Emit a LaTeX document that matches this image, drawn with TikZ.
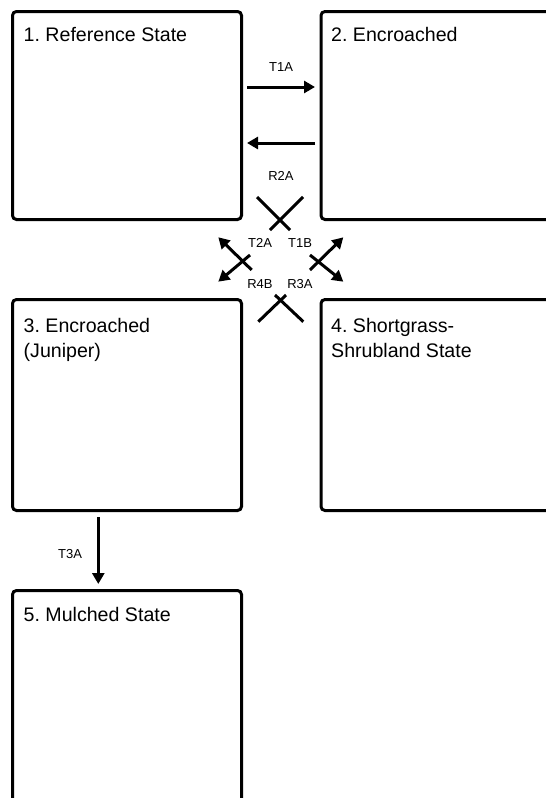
\documentclass[tikz,border=0pt]{standalone}
\usepackage{fontspec}
\setmainfont{Liberation Sans}
\usetikzlibrary{arrows.meta}
\frenchspacing
\begin{document}
\begin{tikzpicture}[x=1pt,y=-1pt,
  statebox/.style={draw=black, line width=3pt, rounded corners=4pt, inner sep=0pt, anchor=north west},
  title/.style={anchor=base west, inner sep=0pt, font=\fontsize{19.6}{24}\selectfont},
  lab/.style={inner sep=0pt, font=\fontsize{13}{15}\selectfont},
  arr/.style={line width=3pt, -{Triangle[length=11pt,width=12pt]}},
  xline/.style={line width=3pt}]
\useasboundingbox (0,0) rectangle (546,798);
\clip (0,0) rectangle (546,798);
% state boxes
\node[statebox, minimum width=229pt, minimum height=208pt] (s1) at (11,10) {};
\node[statebox, minimum width=250pt, minimum height=208pt] (s2) at (319.5,10) {};
\node[statebox, minimum width=229pt, minimum height=211pt] (s3) at (11,298) {};
\node[statebox, minimum width=250pt, minimum height=211pt] (s4) at (319.5,298) {};
\node[statebox, minimum width=229pt, minimum height=250pt] (s5) at (11,589) {};
% titles
\node[title] (t1) at (23.5,41.5) {1. Reference State};
\node[title] (t2) at (331,41.5) {2. Encroached};
\node[title] (t3a) at (23.5,332) {3. Encroached};
\node[title] (t3b) at (23.5,357) {(Juniper)};
\node[title] (t4a) at (331,332) {4. Shortgrass-};
\node[title] (t4b) at (331,357) {Shrubland State};
\node[title] (t5) at (23.5,621.5) {5. Mulched State};
% transition endpoints
\coordinate (t1aS) at (247,87);
\coordinate (t1aE) at (315,87);
\coordinate (r2aS) at (315,143);
\coordinate (r2aE) at (247,143);
\coordinate (t3aS) at (98.3,517);
\coordinate (t3aE) at (98.3,584);
\coordinate (aS) at (251.7,270);
\coordinate (aE) at (218.3,237.3);
\coordinate (bS) at (250,255);
\coordinate (bE) at (218.3,281.7);
\coordinate (cS) at (310,270);
\coordinate (cE) at (343.3,237.3);
\coordinate (dS) at (310,255);
\coordinate (dE) at (343.3,281.7);
\coordinate (x1a) at (257,197);
\coordinate (x1b) at (290,230);
\coordinate (x2a) at (303,197);
\coordinate (x2b) at (270,230);
\coordinate (x3a) at (275,295);
\coordinate (x3b) at (303.3,321.7);
\coordinate (x4a) at (286,295);
\coordinate (x4b) at (258.3,321.7);
% arrows
\draw[arr] (t1aS) -- (t1aE);
\draw[arr] (r2aS) -- (r2aE);
\draw[arr] (t3aS) -- (t3aE);
\draw[arr] (aS) -- (aE);
\draw[arr] (bS) -- (bE);
\draw[arr] (cS) -- (cE);
\draw[arr] (dS) -- (dE);
\draw[xline] (x1a) -- (x1b);
\draw[xline] (x2a) -- (x2b);
\draw[xline] (x3a) -- (x3b);
\draw[xline] (x4a) -- (x4b);
% labels
\node[lab] (l1) at (281,67) {T1A};
\node[lab] (l2) at (281,176) {R2A};
\node[lab] (l3) at (70,554) {T3A};
\node[lab] (l4) at (260,243) {T2A};
\node[lab] (l5) at (300,243) {T1B};
\node[lab] (l6) at (260,284) {R4B};
\node[lab] (l7) at (300,284) {R3A};
\end{tikzpicture}
\end{document}
